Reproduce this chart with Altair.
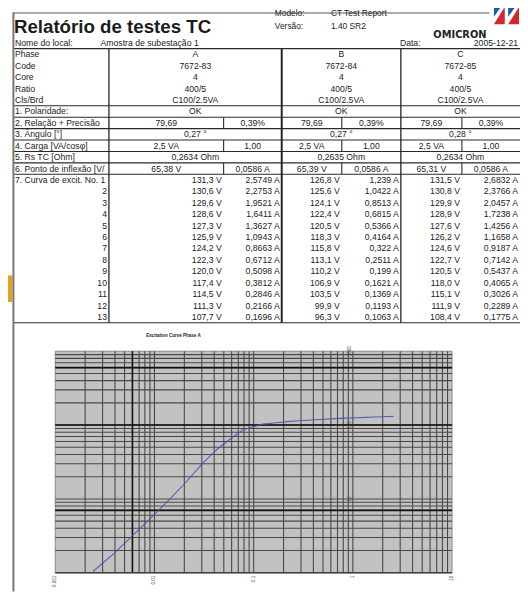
import altair as alt
import pandas as pd

# ============================ DATA ============================
PHASES = ["A", "B", "C"]
CODES = ["7672-83", "7672-84", "7672-85"]
CORES = ["4", "4", "4"]
RATIOS = ["400/5", "400/5", "400/5"]
CLASS_BURDEN = ["C100/2.5VA", "C100/2.5VA", "C100/2.5VA"]
POLARITY = ["OK", "OK", "OK"]
RATIO_MEAS = [79.69, 79.69, 79.69]
RATIO_ERR_PCT = [0.39, 0.39, 0.39]
ANGLE_DEG = [0.27, 0.27, 0.28]
BURDEN_VA = [2.5, 2.5, 2.5]
COS_PHI = [1.00, 1.00, 1.00]
RS_OHM = [0.2634, 0.2635, 0.2634]
KNEE_V = [65.38, 65.39, 65.31]
KNEE_A = [0.0586, 0.0586, 0.0586]

CURVE_V_A = [131.3, 130.6, 129.6, 128.6, 127.3, 125.9, 124.2, 122.3, 120.0, 117.4, 114.5, 111.3, 107.7]
CURVE_I_A = [2.5749, 2.2753, 1.9521, 1.6411, 1.3627, 1.0943, 0.8663, 0.6712, 0.5098, 0.3812, 0.2846, 0.2166, 0.1696]
CURVE_V_B = [126.8, 125.6, 124.1, 122.4, 120.5, 118.3, 115.8, 113.1, 110.2, 106.9, 103.5, 99.9, 96.3]
CURVE_I_B = [1.239, 1.0422, 0.8513, 0.6815, 0.5366, 0.4164, 0.322, 0.2511, 0.199, 0.1621, 0.1369, 0.1193, 0.1063]
CURVE_V_C = [131.5, 130.8, 129.9, 128.9, 127.6, 126.2, 124.6, 122.7, 120.5, 118.0, 115.1, 111.9, 108.4]
CURVE_I_C = [2.6832, 2.3766, 2.0457, 1.7238, 1.4256, 1.1658, 0.9187, 0.7142, 0.5437, 0.4065, 0.3026, 0.2289, 0.1775]

# lower part of the phase A excitation curve
GRAPH_LOW_I = [0.0024, 0.0040, 0.0059, 0.0100, 0.0141, 0.0203, 0.0301, 0.0393, 0.0457, 0.0586, 0.0780, 0.1233]
GRAPH_LOW_V = [1.04, 1.87, 3.11, 6.17, 9.79, 16.3, 29.6, 42.3, 50.5, 65.38, 86.5, 103.0]

ROW_LABELS = ["Phase", "Code", "Core", "Ratio", "Cls/Brd", "1. Polaridade:",
              "2. Relação + Precisão", "3. Ângulo [°]", "4. Carga [VA/cosφ]",
              "5. Rs TC [Ohm]", "6. Ponto de inflexão [V/mA]", "7. Curva de excit. No. 1"]
POINT_NUMBERS = ["2", "3", "4", "5", "6", "7", "8", "9", "10", "11", "12", "13"]

TITLE = "Relatório de testes TC"
MODEL_LABEL, MODEL = "Modelo:", "CT Test Report"
VERSION_LABEL, VERSION = "Versão:", "1.40 SR2"
SITE_LABEL, SITE = "Nome do local:", "Amostra de subestação 1"
DATE_LABEL, DATE = "Data:", "2005-12-21"
BRAND = "OMICRON"
PLOT_TITLE = "Excitation Curve Phase A"

X_TICKS = [0.001, 0.01, 0.1, 1, 10]
Y_TICKS = [1, 10, 100, 1000]

# ============================ LAYOUT ============================
W, H = 520, 588
FONT = "Liberation Sans"
INK = "#1c1c1c"
FS = 8.8
COL_DIV = [110.5, 286.0, 407.0]
RIGHT_EDGE = 528.0
SPLIT = [227.0, 347.0, 469.0]
ROW_Y0, ROW_H = 50.5, 11.6
LEFT_X = 13.5

XP = alt.Scale(domain=[8, 8 + W], range=[0, W], nice=False, zero=False)
YP = alt.Scale(domain=[8, 8 + H], range=[0, H], nice=False, zero=False)
XL = alt.Scale(type="log", domain=[0.001, 10], range=[56 - 8, 459 - 8], nice=False)
YL = alt.Scale(type="log", domain=[1, 1000], range=[577 - 8, 352 - 8], nice=False)


def ry(i):
    return ROW_Y0 + ROW_H * i


def fmt(v, nd):
    return f"{v:.{nd}f}".replace(".", ",")


def fmt_amp(v):
    return f"{v:.4f}".rstrip("0").replace(".", ",") + " A"


def text_layer(rows, align, xs=XP, ys=YP, baseline="middle", size=FS, weight="normal",
               font=FONT, color=INK, **kw):
    return alt.Chart(pd.DataFrame(rows)).mark_text(
        align=align, baseline=baseline, fontSize=size, fontWeight=weight, font=font,
        color=color, **kw
    ).encode(
        x=alt.X("x:Q", scale=xs, axis=None),
        y=alt.Y("y:Q", scale=ys, axis=None),
        text="t:N",
    )


def rule_layer(rows, xs=XP, ys=YP, **kw):
    return alt.Chart(pd.DataFrame(rows)).mark_rule(**kw).encode(
        x=alt.X("x:Q", scale=xs, axis=None), x2="x2:Q",
        y=alt.Y("y:Q", scale=ys, axis=None), y2="y2:Q",
        strokeWidth=alt.StrokeWidth("w:Q", scale=None),
        color=alt.Color("c:N", scale=None),
    )


# ---------------- table cells ----------------
cells_c, cells_r = [], []
curve_v = [CURVE_V_A, CURVE_V_B, CURVE_V_C]
curve_i = [CURVE_I_A, CURVE_I_B, CURVE_I_C]
for k in range(3):
    a = COL_DIV[k]
    b = COL_DIV[k + 1] if k < 2 else RIGHT_EDGE
    s = SPLIT[k]
    c, c1, c2 = (a + b) / 2, (a + s) / 2, (s + b) / 2
    for i, val in enumerate([PHASES[k], CODES[k], CORES[k], RATIOS[k], CLASS_BURDEN[k], POLARITY[k]]):
        cells_c.append(dict(x=c, y=ry(i), t=val))
    cells_c += [
        dict(x=c1, y=ry(6), t=fmt(RATIO_MEAS[k], 2)),
        dict(x=c2, y=ry(6), t=fmt(RATIO_ERR_PCT[k], 2) + "%"),
        dict(x=c, y=ry(7), t=fmt(ANGLE_DEG[k], 2) + " °"),
        dict(x=c1, y=ry(8), t=fmt(BURDEN_VA[k], 1) + " VA"),
        dict(x=c2, y=ry(8), t=fmt(COS_PHI[k], 2)),
        dict(x=c, y=ry(9), t=fmt(RS_OHM[k], 4) + " Ohm"),
        dict(x=c1, y=ry(10), t=fmt(KNEE_V[k], 2) + " V"),
        dict(x=c2, y=ry(10), t=fmt(KNEE_A[k], 4) + " A"),
    ]
    for j, (v, amp) in enumerate(zip(curve_v[k], curve_i[k])):
        cells_r.append(dict(x=s - 2, y=ry(11 + j), t=fmt(v, 1) + " V"))
        cells_r.append(dict(x=b - 2, y=ry(11 + j), t=fmt_amp(amp)))

label_rows = [dict(x=15, y=ry(i), t=t) for i, t in enumerate(ROW_LABELS)]
for j, t in enumerate(POINT_NUMBERS):
    cells_r.append(dict(x=108.5, y=ry(12 + j), t=t))

header_left = [
    dict(x=15, y=39.3, t=SITE_LABEL), dict(x=102, y=39.3, t=SITE), dict(x=406, y=39.3, t=DATE_LABEL),
]
header_small = [
    dict(x=279, y=12, t=MODEL_LABEL), dict(x=336, y=12, t=MODEL),
    dict(x=279, y=24.5, t=VERSION_LABEL), dict(x=336, y=24.5, t=VERSION),
]

# ---------------- table lines ----------------
top, bot = ry(0) - ROW_H / 2, ry(23) + ROW_H / 2
lines = []
for yv in [top] + [ry(i) - ROW_H / 2 for i in range(5, 12)] + [bot]:
    lines.append(dict(x=LEFT_X, x2=RIGHT_EDGE, y=yv, y2=yv, w=1.1, c="#2a2a2a"))
for xv, wv in zip(COL_DIV, [1.3, 2.0, 1.3]):
    lines.append(dict(x=xv, x2=xv, y=top, y2=bot, w=wv, c="#222222"))
for s in SPLIT:
    for i in (6, 8, 10):
        lines.append(dict(x=s, x2=s, y=ry(i) - ROW_H / 2, y2=ry(i) + ROW_H / 2, w=1.1, c="#2a2a2a"))
lines.append(dict(x=LEFT_X, x2=LEFT_X, y=8, y2=596, w=2.0, c="#777777"))
lines.append(dict(x=LEFT_X, x2=497, y=8.5, y2=8.5, w=1.0, c="#555555"))

orange = alt.Chart(pd.DataFrame([dict(x=8, x2=12.5, y=275, y2=302)])).mark_rect(color="#E2A21F").encode(
    x=alt.X("x:Q", scale=XP, axis=None), x2="x2:Q",
    y=alt.Y("y:Q", scale=YP, axis=None), y2="y2:Q")

# logo
BLUE_PATH = "M -1 -1.8 L 0.6 -1.8 L -1 0.4 Z"
RED_PATH = "M 1 -1.4 L 1 1.8 L -1 1.8 Z"
logo = []
for cx in (507, 521.5):
    for path, col in ((BLUE_PATH, "#1d5aa6"), (RED_PATH, "#d6262d")):
        logo.append(alt.Chart(pd.DataFrame([dict(x=cx, y=10)])).mark_point(
            shape=path, filled=True, size=121, color=col, opacity=1, strokeWidth=0
        ).encode(x=alt.X("x:Q", scale=XP, axis=None), y=alt.Y("y:Q", scale=YP, axis=None)))

# ---------------- log chart ----------------
plot_bg = alt.Chart(pd.DataFrame([dict(x=0.001, x2=10, y=1, y2=1000)])).mark_rect(
    fill="#c2c2c2", stroke="#8a8a8a", strokeWidth=1
).encode(x=alt.X("x:Q", scale=XL, axis=None), x2="x2:Q",
         y=alt.Y("y:Q", scale=YL, axis=None), y2="y2:Q")

grid = []
x_grid = [d * 10.0 ** k for k in (-3, -2, -1, 0) for d in range(1, 10)] + [10]
y_grid = [d * 10.0 ** k for k in (0, 1, 2) for d in range(1, 10)] + [1000]
for xv in x_grid[1:-1]:
    grid.append(dict(x=xv, x2=xv, y=1, y2=1000, w=1.1, c="#484848"))
for yv in y_grid[1:-1]:
    grid.append(dict(x=0.001, x2=10, y=yv, y2=yv, w=1.1, c="#484848"))
for xv in [0.006]:
    grid.append(dict(x=xv, x2=xv, y=1, y2=1000, w=1.6, c="#111111"))
for yv in [7, 100, 600]:
    grid.append(dict(x=0.001, x2=10, y=yv, y2=yv, w=1.6, c="#111111"))
grid.append(dict(x=0.001, x2=10, y=1, y2=1, w=1.4, c="#404040"))

curve_df = pd.DataFrame({
    "I": GRAPH_LOW_I + CURVE_I_A[::-1],
    "V": GRAPH_LOW_V + CURVE_V_A[::-1],
})
curve = alt.Chart(curve_df).mark_line(color="#4557b0", strokeWidth=1.1, opacity=0.9).encode(
    x=alt.X("I:Q", scale=XL, axis=None),
    y=alt.Y("V:Q", scale=YL, axis=None),
    order="I:Q",
)

xlab = text_layer([dict(x=v, y=1, t=f"{v:g}") for v in X_TICKS], "right", xs=XL, ys=YL,
                  size=4.6, color="#333333", angle=270, dx=-3)
ylab = text_layer([dict(x=1, y=v, t=f"{v:g}") for v in Y_TICKS], "center", xs=XL, ys=YL,
                  baseline="bottom", size=4.6, color="#333333", angle=270, dy=-1)

layers = [
    orange,
    rule_layer(lines),
    text_layer([dict(x=14, y=28.5, t=TITLE)], "left", baseline="alphabetic", size=19, weight="bold"),
    text_layer(header_small, "left", baseline="alphabetic", size=8.5),
    text_layer([dict(x=440, y=34, t=BRAND)], "left", baseline="alphabetic", size=10, weight="bold",
               font="DejaVu Sans", color="#222222"),
    *logo,
    text_layer(header_left, "left"),
    text_layer([dict(x=526, y=39.3, t=DATE)], "right"),
    text_layer(label_rows, "left", limit=95, ellipsis="\u200b"),
    text_layer(cells_c, "center"),
    text_layer(cells_r, "right"),
    text_layer([dict(x=176, y=337, t=PLOT_TITLE)], "center", size=4.6, weight="bold"),
    plot_bg,
    rule_layer(grid, xs=XL, ys=YL),
    curve,
    xlab,
    ylab,
]

chart = alt.layer(*layers).resolve_scale(x="independent", y="independent").properties(
    width=W, height=H, padding=0, autosize=alt.AutoSizeParams(type="none"),
    background="white",
).configure_view(stroke=None)

chart.save("out.html", embed_options={"renderer": "svg", "actions": False})
